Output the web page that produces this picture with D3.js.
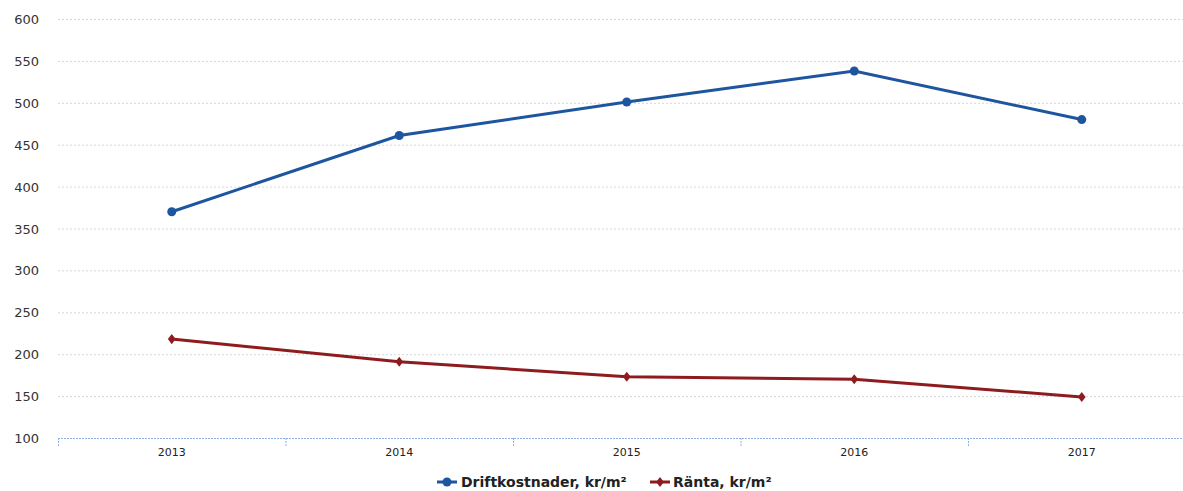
<!DOCTYPE html>
<html><head><meta charset="utf-8">
<script src="https://cdn.jsdelivr.net/npm/d3@7"></script>
<style>body{margin:0;background:#fff}svg{display:block}</style>
</head><body>
<svg id="c" width="1183" height="491"></svg>
<script>
const years = ["2013","2014","2015","2016","2017"];
const drift = [370, 461, 501, 538, 480];
const ranta = [218, 191, 173, 170, 149];
const yTicks = [100,150,200,250,300,350,400,450,500,550,600];
const seriesNames = ["Driftkostnader, kr/m²","Ränta, kr/m²"];
const colors = ["#1d559f","#8e1c1f"];

const svg = d3.select("#c");
const x = d3.scaleBand().domain(years).range([58, 1195.5]);
const y = d3.scaleLinear().domain([100,600]).range([438, 19]);
const font = "DejaVu Sans, Verdana, sans-serif";

// gridlines
svg.append("g").selectAll("line").data(yTicks.filter(d=>d>100)).join("line")
  .attr("x1",58).attr("x2",1183).attr("y1",d=>y(d)+0.5).attr("y2",d=>y(d)+0.5)
  .attr("stroke","#d4d7db").attr("stroke-width",1).attr("stroke-dasharray","2,2");

// y labels
svg.append("g").selectAll("text").data(yTicks).join("text")
  .attr("x",39).attr("y",d=>y(d)+5).attr("text-anchor","end")
  .attr("font-family",font).attr("font-size",13).attr("fill","#333").text(d=>d);

// x axis
const xa = svg.append("g");
xa.append("line").attr("x1",58).attr("x2",1183).attr("y1",438.5).attr("y2",438.5)
  .attr("stroke","#8fb2e0").attr("stroke-dasharray","2,1");
const bounds = years.map(d=>x(d));
xa.selectAll("line.t").data(bounds).join("line").attr("class","t")
  .attr("x1",d=>d+0.5).attr("x2",d=>d+0.5).attr("y1",438).attr("y2",446)
  .attr("stroke","#8fb2e0").attr("stroke-dasharray","2,1");
xa.selectAll("text").data(years).join("text")
  .attr("x",d=>x(d)+x.bandwidth()/2).attr("y",456).attr("text-anchor","middle")
  .attr("font-family",font).attr("font-size",11).attr("fill","#222").text(d=>d);

const cx = d=>x(d)+x.bandwidth()/2;
const line = d3.line().x((d,i)=>cx(years[i])).y(d=>y(d));
[drift, ranta].forEach((s,k)=>{
  svg.append("path").datum(s).attr("d",line).attr("fill","none")
    .attr("stroke",colors[k]).attr("stroke-width",3);
  if(k===0){
    svg.append("g").selectAll("circle").data(s).join("circle")
      .attr("cx",(d,i)=>cx(years[i])).attr("cy",d=>y(d)).attr("r",4.5).attr("fill",colors[k]);
  } else {
    svg.append("g").selectAll("path").data(s).join("path")
      .attr("d",d3.symbol(d3.symbolDiamond,36))
      .attr("transform",(d,i)=>`translate(${cx(years[i])},${y(d)}) scale(1.2,0.9)`).attr("fill",colors[k]);
  }
});

// legend
const lg = svg.append("g");
const items = [{x:437, tx:461},{x:650, tx:673}];
items.forEach((it,k)=>{
  lg.append("line").attr("x1",it.x).attr("x2",it.x+20).attr("y1",482).attr("y2",482)
    .attr("stroke",colors[k]).attr("stroke-width",3);
  if(k===0) lg.append("circle").attr("cx",it.x+10).attr("cy",482).attr("r",4.5).attr("fill",colors[k]);
  else lg.append("path").attr("d",d3.symbol(d3.symbolDiamond,36)).attr("transform",`translate(${it.x+10},482) scale(1.2,0.9)`).attr("fill",colors[k]);
  lg.append("text").attr("x",it.tx).attr("y",487).attr("font-family",font).attr("font-size",14)
    .attr("font-weight","bold").attr("fill","#222").text(seriesNames[k]);
});
</script>
</body></html>
